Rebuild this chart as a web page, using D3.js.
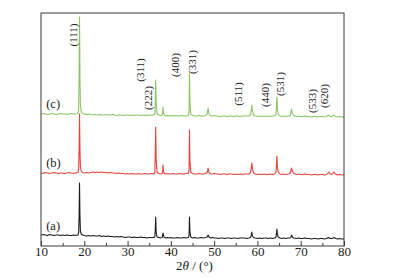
<!DOCTYPE html>
<html>
<head>
<meta charset="utf-8">
<script src="https://cdn.jsdelivr.net/npm/d3@7/dist/d3.min.js"></script>
<style>
  html, body { margin: 0; padding: 0; background: #fff; }
  svg { display: block; font-family: "Liberation Serif", "DejaVu Serif", serif; }
</style>
</head>
<body>
<svg id="chart" width="396" height="277"></svg>
<script>
// ---- data (2θ in degrees, intensity in a.u.; each series drawn above its offset) ----
const seriesNames = ["(a)", "(b)", "(c)"];
const seriesColors = ["#1c1c1c", "#e8413a", "#8cc463"];
const seriesOffsets = [0, 62, 121];

const seriesA = [[10,11],[10.5,11.5],[11,11],[11.5,10.5],[12,11.5],[12.5,11],[13,10.5],[13.5,11],[14,11],[14.5,10.5],[15,11],[15.5,10.5],[16,11],[16.5,10.5],[17,10.5],[17.5,11],[18,10.5],[18.5,11],[18.7,13],[18.8,30],[18.9,63],[19.0,30],[19.1,15],[19.3,12],[19.6,11],[20,10.5],[20.5,10],[21,10.5],[21.5,10],[22,10.5],[22.5,10],[23,10],[23.5,10.5],[24,9.5],[24.5,10],[25,9.5],[25.5,10],[26,9.5],[26.5,9.5],[27,9],[27.5,9.5],[28,9],[28.5,9.5],[29,9],[29.5,8.5],[30,9],[30.5,9],[31,8.5],[31.5,9],[32,8.5],[32.5,8.5],[33,9],[33.5,8.5],[34,8.5],[34.5,8],[35,8.5],[35.5,8.5],[36,8.5],[36.3,9],[36.4,17],[36.5,29],[36.6,14],[36.8,9],[37.2,8.5],[37.6,8],[38,8.5],[38.2,13],[38.4,9],[38.8,8],[39.2,8.5],[39.6,8],[40,8.5],[40.5,8],[41,8],[41.5,8.5],[42,8],[42.5,8],[43,8.5],[43.5,8],[44,8.5],[44.2,10],[44.3,29],[44.4,15],[44.6,9],[45,8],[45.5,8.5],[46,8],[46.5,8],[47,8.5],[47.5,8],[48,8.5],[48.4,9],[48.6,11],[48.8,9],[49.2,8],[49.6,8.5],[50,8],[50.5,8],[51,7.5],[51.5,8],[52,8],[52.5,7.5],[53,8],[53.5,8],[54,7.5],[54.5,8],[55,8],[55.5,7.5],[56,8],[56.5,8],[57,8],[57.5,7.5],[58,8],[58.4,8.5],[58.6,11],[58.7,14],[58.85,10],[59.1,8.5],[59.5,8],[60,7.5],[60.5,8],[61,7.5],[61.5,8],[62,8],[62.5,7.5],[63,8],[63.5,7.5],[64,8],[64.3,9],[64.4,13],[64.5,17],[64.6,12],[64.8,9],[65.2,8],[65.6,7.5],[66,8],[66.5,7.5],[67,8],[67.5,8],[67.8,9.5],[67.9,11],[68.05,9],[68.4,8],[69,7.5],[69.5,8],[70,7.5],[70.5,7.5],[71,8],[71.5,7.5],[72,7.5],[72.5,7],[73,7.5],[73.5,7.5],[74,7],[74.5,7.5],[75,7.5],[75.5,7],[76,7.5],[76.4,8.5],[76.8,7.5],[77.3,7.5],[77.7,8.5],[78.1,7.5],[78.5,7],[79,7.5],[79.5,7],[80,7]];

const seriesB = [[10,11],[10.5,10.5],[11,11.5],[11.5,11],[12,10.5],[12.5,11],[13,11.5],[13.5,11],[14,10.5],[14.5,11],[15,11],[15.5,10.5],[16,11],[16.5,11.5],[17,11],[17.5,10.5],[18,11],[18.5,11.5],[18.7,14],[18.8,35],[18.9,70],[19.0,34],[19.1,17],[19.3,13],[19.6,11.5],[20,11],[20.5,11.5],[21,11],[21.5,11.5],[22,12],[22.5,11.5],[23,12],[23.5,11.5],[24,12],[24.5,11.5],[25,11.5],[25.5,11],[26,11.5],[26.5,11],[27,11],[27.5,10.5],[28,11],[28.5,10.5],[29,10.5],[29.5,10],[30,10.5],[30.5,10],[31,10.5],[31.5,10],[32,10],[32.5,10.5],[33,10],[33.5,10],[34,10.5],[34.5,10],[35,10],[35.5,10.5],[36,10],[36.3,11],[36.4,30],[36.5,57],[36.6,25],[36.8,12],[37.2,10.5],[37.6,10],[38,10.5],[38.1,13],[38.2,19],[38.3,13],[38.5,10.5],[38.9,10],[39.3,10.5],[39.7,10],[40,10],[40.5,10.5],[41,10],[41.5,10],[42,10.5],[42.5,10],[43,10],[43.5,10.5],[44,10.5],[44.2,14],[44.3,54],[44.4,24],[44.6,12],[45,10.5],[45.5,10],[46,10],[46.5,10.5],[47,10],[47.5,10],[48,10.5],[48.4,11.5],[48.6,16],[48.8,11.5],[49.2,10],[49.6,10],[50,10.5],[50.5,10],[51,10],[51.5,9.5],[52,10],[52.5,10],[53,9.5],[53.5,10],[54,10],[54.5,9.5],[55,10],[55.5,9.5],[56,10],[56.5,9.5],[57,10],[57.5,10],[58,10],[58.4,11.5],[58.6,17],[58.7,21],[58.85,15],[59.1,11],[59.5,10],[60,9.5],[60.5,10],[61,9.5],[61.5,10],[62,9.5],[62.5,9.5],[63,10],[63.5,9.5],[64,10],[64.3,12],[64.4,20],[64.5,28],[64.6,18],[64.8,12],[65.2,10],[65.6,9.5],[66,10],[66.5,9.5],[67,10],[67.5,10.5],[67.7,13],[67.9,16],[68.05,13],[68.4,10.5],[69,9.5],[69.5,10],[70,9.5],[70.5,9.5],[71,10],[71.5,9.5],[72,9.5],[72.5,9],[73,9.5],[73.5,9.5],[74,9],[74.5,9.5],[75,9.5],[75.5,9],[76,9.5],[76.3,11],[76.5,12],[76.8,10],[77.2,9.5],[77.5,11],[77.7,12],[78,10],[78.5,9],[79,9.5],[79.5,9],[80,9]];

const seriesC = [[10,11],[10.5,11.5],[11,11],[11.5,10.5],[12,11],[12.5,11.5],[13,11],[13.5,10.5],[14,11],[14.5,11.5],[15,11],[15.5,11],[16,10.5],[16.5,11],[17,11.5],[17.5,11],[18,11],[18.5,11.5],[18.7,15],[18.8,50],[18.9,108],[19.0,50],[19.1,20],[19.3,13],[19.6,11.5],[20,11],[20.5,10.5],[21,11],[21.5,10.5],[22,10],[22.5,10.5],[23,10],[23.5,10.5],[24,10],[24.5,10],[25,10.5],[25.5,10],[26,10],[26.5,10.5],[27,10],[27.5,9.5],[28,10],[28.5,10],[29,9.5],[29.5,10],[30,10],[30.5,9.5],[31,10],[31.5,9.5],[32,10],[32.5,10],[33,9.5],[33.5,10],[34,9.5],[34.5,10],[35,9.5],[35.5,10],[36,10],[36.3,11],[36.4,25],[36.5,45],[36.6,22],[36.8,11.5],[37.2,10],[37.6,9.5],[38,10],[38.1,12],[38.2,18],[38.3,12],[38.5,10],[38.9,9],[39.3,9.5],[39.7,9],[40,9.5],[40.5,9],[41,9.5],[41.5,9],[42,9],[42.5,9.5],[43,9],[43.5,9],[44,9.5],[44.2,13],[44.3,52],[44.4,23],[44.6,11],[45,9.5],[45.5,9],[46,9],[46.5,9.5],[47,9],[47.5,9],[48,9.5],[48.4,11],[48.6,17],[48.8,11],[49.2,9],[49.6,9],[50,9.5],[50.5,9],[51,9],[51.5,8.5],[52,9],[52.5,9],[53,8.5],[53.5,9],[54,9],[54.5,8.5],[55,9],[55.5,9],[56,8.5],[56.5,9],[57,9],[57.5,9],[58,9],[58.4,10.5],[58.6,16],[58.7,20],[58.85,14],[59.1,10],[59.5,9],[60,8.5],[60.5,9],[61,8.5],[61.5,9],[62,8.5],[62.5,9],[63,8.5],[63.5,9],[64,9],[64.3,11],[64.4,19],[64.5,28],[64.6,17],[64.8,11],[65.2,9],[65.6,8.5],[66,9],[66.5,8.5],[67,9],[67.5,9],[67.7,11.5],[67.9,16],[68.05,12],[68.4,9.5],[69,8.5],[69.5,9],[70,8.5],[70.5,8.5],[71,9],[71.5,8.5],[72,8.5],[72.5,8],[73,8.5],[73.5,8.5],[74,8],[74.5,8.5],[75,8.5],[75.5,8],[76,8.5],[76.3,9.5],[76.5,10],[76.8,8.5],[77.2,8.5],[77.5,9.5],[77.7,10],[78,8.5],[78.5,8],[79,8.5],[79.5,8],[80,8]];

// hkl annotations: label, 2θ position of label centre, height of label centre
const hklLabels = ["(111)", "(311)", "(222)", "(400)", "(331)", "(511)", "(440)", "(531)", "(533)", "(620)"];
const hklX = [17.3, 32.9, 34.7, 41.0, 44.9, 55.5, 61.7, 65.2, 72.6, 75.4];
const hklY = [211, 176, 148, 181, 184, 152, 151, 162, 145, 150];

// series tag positions (2θ of left edge, height of text centre)
const tagX = [11.2, 11.2, 11.2];
const tagY = [20, 83, 142];

const majorTicks = [10, 20, 30, 40, 50, 60, 70, 80];
const minorTicks = [15, 25, 35, 45, 55, 65, 75];

// ---- drawing ----
(function () {
  const svg = d3.select("#chart");
  const mLeft = 41, mRight = 344, mTop = 13, mBottom = 246;

  const x = d3.scaleLinear().domain([10, 80]).range([mLeft, mRight]);
  const y = d3.scaleLinear().domain([0, 233]).range([mBottom, mTop]);

  const allSeries = [seriesA, seriesB, seriesC];

  svg.append("defs").append("clipPath").attr("id", "clip")
    .append("rect").attr("x", mLeft).attr("y", mTop).attr("width", mRight - mLeft).attr("height", mBottom - mTop);

  const lines = svg.append("g").attr("clip-path", "url(#clip)");
  allSeries.forEach((s, i) => {
    const line = d3.line()
      .x(d => x(d[0]))
      .y(d => y(d[1] + seriesOffsets[i]));
    lines.append("path")
      .datum(s)
      .attr("fill", "none")
      .attr("stroke", seriesColors[i])
      .attr("stroke-width", 1.1)
      .attr("stroke-linejoin", "round")
      .attr("d", line);
  });

  svg.append("rect")
    .attr("x", mLeft).attr("y", mTop)
    .attr("width", mRight - mLeft).attr("height", mBottom - mTop)
    .attr("fill", "none").attr("stroke", "#3a3a3a").attr("stroke-width", 1);

  const axis = svg.append("g").attr("transform", `translate(0,${mBottom})`)
    .call(d3.axisBottom(x).tickValues(majorTicks).tickSize(-5).tickPadding(1).tickFormat(d3.format("d")));
  axis.select(".domain").remove();
  axis.selectAll(".tick line").attr("stroke", "#3a3a3a");
  axis.selectAll(".tick text").attr("font-family", "Liberation Serif, serif").attr("font-size", 13).attr("fill", "#1a1a1a");

  const minorAxis = svg.append("g").attr("transform", `translate(0,${mBottom})`)
    .call(d3.axisBottom(x).tickValues(minorTicks).tickSize(-3).tickFormat(""));
  minorAxis.select(".domain").remove();
  minorAxis.selectAll(".tick line").attr("stroke", "#3a3a3a");

  const title = svg.append("text")
    .attr("x", (mLeft + mRight) / 2 + 2).attr("y", 270)
    .attr("text-anchor", "middle")
    .attr("font-size", 13).attr("fill", "#1a1a1a");
  title.append("tspan").text("2");
  title.append("tspan").attr("font-style", "italic").text("θ");
  title.append("tspan").text(" / (°)");

  hklLabels.forEach((t, i) => {
    svg.append("text")
      .attr("transform", `translate(${x(hklX[i])},${y(hklY[i])}) rotate(-90)`)
      .attr("text-anchor", "middle")
      .attr("dominant-baseline", "central")
      .attr("font-size", 11)
      .attr("fill", "#1a1a1a")
      .text(t);
  });

  seriesNames.forEach((t, i) => {
    svg.append("text")
      .attr("x", x(tagX[i])).attr("y", y(tagY[i]))
      .attr("dominant-baseline", "central")
      .attr("font-size", 12.5)
      .attr("fill", "#1a1a1a")
      .text(t);
  });
})();
</script>
</body>
</html>
